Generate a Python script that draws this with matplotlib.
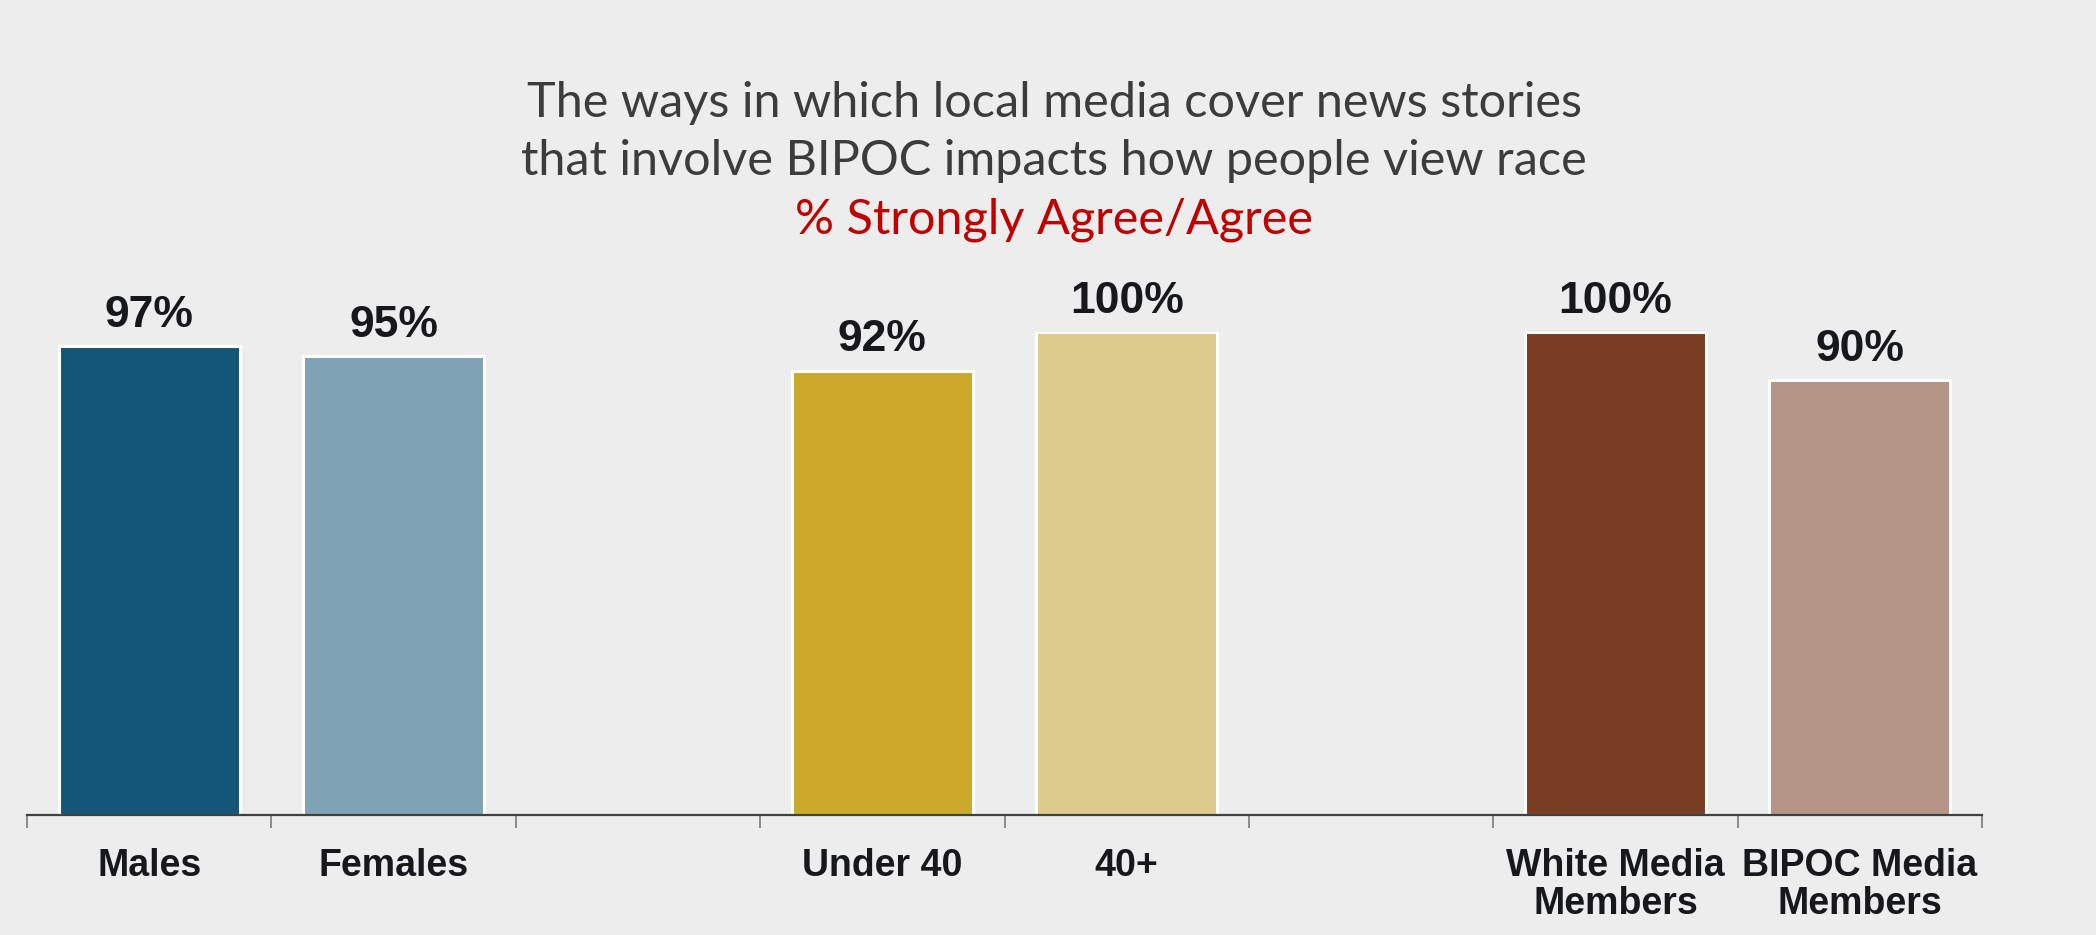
"""Bar chart: local media coverage of BIPOC stories and how people view race."""

import matplotlib.pyplot as plt
import numpy as np

# slots, with empty slots as gaps between groups
CATEGORIES = ["Males", "Females", "", "Under 40", "40+", "",
              "White Media\nMembers", "BIPOC Media\nMembers"]
VALUES = [97, 95, np.nan, 92, 100, np.nan, 100, 90]
COLORS = ["#135678", "#7FA2B5", "none", "#CBAA2B", "#DDCB8B", "none",
          "#7A3D21", "#B59585"]

TITLE_LINES = ["The ways in which local media cover news stories",
               "that involve BIPOC impacts how people view race"]
SUBTITLE = "% Strongly Agree/Agree"

BG = "#EDEDED"
TEXT_DARK = "#16181C"
TITLE_GRAY = "#3D3B3C"
RED = "#C00000"

W, H = 2096, 935
fig = plt.figure(figsize=(W / 100, H / 100), dpi=100, facecolor=BG)
ax = fig.add_axes([27 / W, 1 - 815 / H, 1955 / W, 483 / H])
ax.set_facecolor(BG)

x = np.arange(len(CATEGORIES))
vals = np.array(VALUES, dtype=float)
mask = ~np.isnan(vals)
ax.bar(x[mask], vals[mask], width=0.74,
       color=[c for c, m in zip(COLORS, mask) if m],
       edgecolor="white", linewidth=2.2, zorder=2)

for xi, v in zip(x[mask], vals[mask]):
    ax.annotate(f"{v:.0f}%", xy=(xi, v), xytext=(0, 14),
                textcoords="offset points", ha="center", va="baseline",
                fontsize=32, fontweight="bold", color=TEXT_DARK,
                family="Liberation Sans")

ax.set_xlim(-0.5, len(CATEGORIES) - 0.5)
ax.set_ylim(0, 100)
for s in ("top", "right", "left"):
    ax.spines[s].set_visible(False)
ax.spines["bottom"].set_color("#404040")
ax.spines["bottom"].set_linewidth(1.6)
ax.set_yticks([])

# boundary ticks (no labels) + centred category labels
ax.set_xticks(np.arange(-0.5, len(CATEGORIES)), [""] * (len(CATEGORIES) + 1))
ax.tick_params(axis="x", which="major", length=9.5, width=1.2,
               color="#7A7A7A", direction="out")
ax.set_xticks(x, CATEGORIES, minor=True)
ax.tick_params(axis="x", which="minor", length=0, pad=24)
for lab in ax.get_xticklabels(minor=True):
    lab.set_fontsize(27)
    lab.set_fontweight("bold")
    lab.set_color(TEXT_DARK)
    lab.set_family("Liberation Sans")
    lab.set_linespacing(1.05)

cx = 0.503
fig.text(cx, 1 - 117 / H, TITLE_LINES[0], ha="center", va="baseline",
         fontsize=35, color=TITLE_GRAY, family="Lato")
fig.text(cx, 1 - 175 / H, TITLE_LINES[1], ha="center", va="baseline",
         fontsize=35, color=TITLE_GRAY, family="Lato")
fig.text(cx, 1 - 233 / H, SUBTITLE, ha="center", va="baseline",
         fontsize=35, color=RED, family="Lato")

fig.savefig("out.png", dpi=100, facecolor=BG)
plt.close(fig)
